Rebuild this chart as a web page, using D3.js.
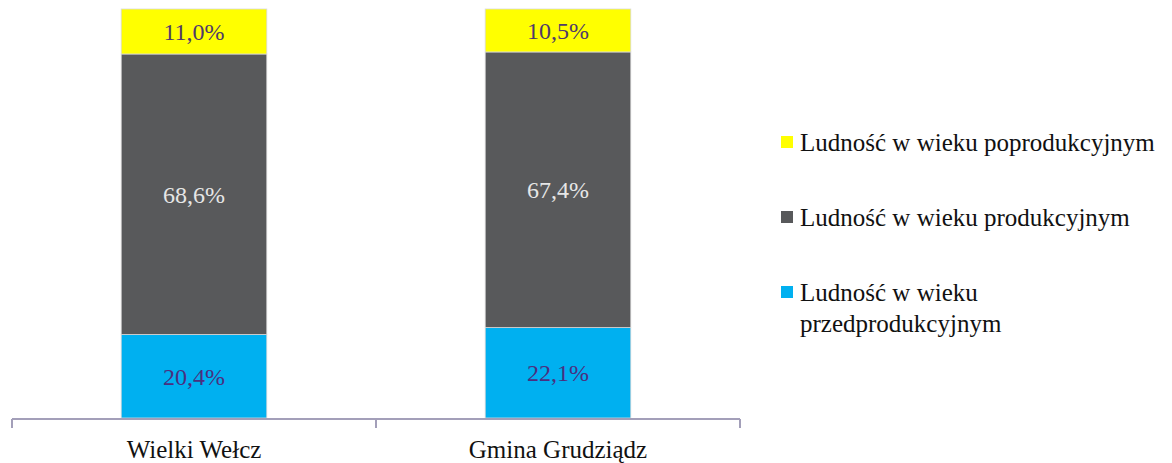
<!DOCTYPE html>
<html>
<head>
<meta charset="utf-8">
<script src="https://cdn.jsdelivr.net/npm/d3@7"></script>
<style>
  body { margin: 0; background: #fff; }
</style>
</head>
<body>
<svg id="chart" width="1172" height="463" font-family="'Liberation Serif', 'Times New Roman', 'DejaVu Serif', serif"></svg>
<script>
// dane
const categories = ["Wielki Wełcz", "Gmina Grudziądz"];
const seriesNames = ["Ludność w wieku przedprodukcyjnym", "Ludność w wieku produkcyjnym", "Ludność w wieku poprodukcyjnym"];
const przedprodukcyjny = [20.4, 22.1];
const produkcyjny = [68.6, 67.4];
const poprodukcyjny = [11.0, 10.5];
const colors = ["#00B0F0", "#58595B", "#FFFF00"];
const labelColors = ["#4a2f80", "#e6e6e6", "#4f3a6a"];
const FONT = "'Liberation Serif', 'Times New Roman', 'DejaVu Serif', serif";

const svg = d3.select("#chart");

const rows = categories.map((c, i) => ({
  cat: c,
  s0: przedprodukcyjny[i],
  s1: produkcyjny[i],
  s2: poprodukcyjny[i]
}));
const stack = d3.stack().keys(["s0", "s1", "s2"]);
const layers = stack(rows);

// skale
const x = d3.scaleBand().domain(categories).range([12, 740]).padding(0);
const y = d3.scaleLinear().domain([0, 100]).range([418, 9]);
const barW = x.bandwidth() * 0.4;

// słupki
const g = svg.append("g");
layers.forEach((layer, li) => {
  g.selectAll(".seg" + li)
    .data(layer)
    .enter()
    .append("rect")
    .attr("x", d => x(d.data.cat) + (x.bandwidth() - barW) / 2)
    .attr("y", d => y(d[1]))
    .attr("width", barW)
    .attr("height", d => y(d[0]) - y(d[1]))
    .attr("fill", colors[li])
    .attr("stroke", "#d9d9d9")
    .attr("stroke-width", 0.8);

  g.selectAll(".lab" + li)
    .data(layer)
    .enter()
    .append("text")
    .attr("x", d => x(d.data.cat) + x.bandwidth() / 2)
    .attr("y", d => (y(d[0]) + y(d[1])) / 2)
    .attr("dy", "0.35em")
    .attr("text-anchor", "middle")
    .attr("font-family", FONT)
    .attr("font-size", 24)
    .attr("fill", labelColors[li])
    .text(d => (d[1] - d[0]).toFixed(1).replace(".", ",") + "%");
});

// oś X
const axis = svg.append("g")
  .attr("transform", "translate(0,419)")
  .call(d3.axisBottom(x).tickSize(0).tickPadding(20))
  .attr("font-family", FONT);
axis.select(".domain").remove();
axis.append("line")
  .attr("x1", 12).attr("x2", 740)
  .attr("stroke", "#a39fb9").attr("stroke-width", 2);
axis.selectAll(".sep")
  .data([12, x(categories[1]), 740])
  .enter()
  .append("line")
  .attr("x1", d => d).attr("x2", d => d)
  .attr("y1", 0).attr("y2", 9)
  .attr("stroke", "#a39fb9").attr("stroke-width", 2);
axis.selectAll(".tick text")
  .attr("font-family", FONT)
  .attr("font-size", 25)
  .attr("fill", "#111")
  .attr("dy", "0.75em");

// legenda
const legendItems = [
  { name: seriesNames[2], color: colors[2], y: 142, lines: ["Ludność w wieku poprodukcyjnym"] },
  { name: seriesNames[1], color: colors[1], y: 217, lines: ["Ludność w wieku produkcyjnym"] },
  { name: seriesNames[0], color: colors[0], y: 292, lines: ["Ludność w wieku", "przedprodukcyjnym"] }
];
const legend = svg.append("g");
const li = legend.selectAll(".li")
  .data(legendItems)
  .enter()
  .append("g");
li.append("rect")
  .attr("x", 781)
  .attr("y", d => d.y - 6)
  .attr("width", 12)
  .attr("height", 12)
  .attr("fill", d => d.color);
li.each(function (d) {
  const t = d3.select(this).append("text")
    .attr("font-family", FONT)
    .attr("font-size", 25)
    .attr("fill", "#111");
  d.lines.forEach((line, k) => {
    t.append("tspan")
      .attr("x", 800)
      .attr("y", d.y + k * 31)
      .attr("dy", "0.35em")
      .text(line);
  });
});
</script>
</body>
</html>
